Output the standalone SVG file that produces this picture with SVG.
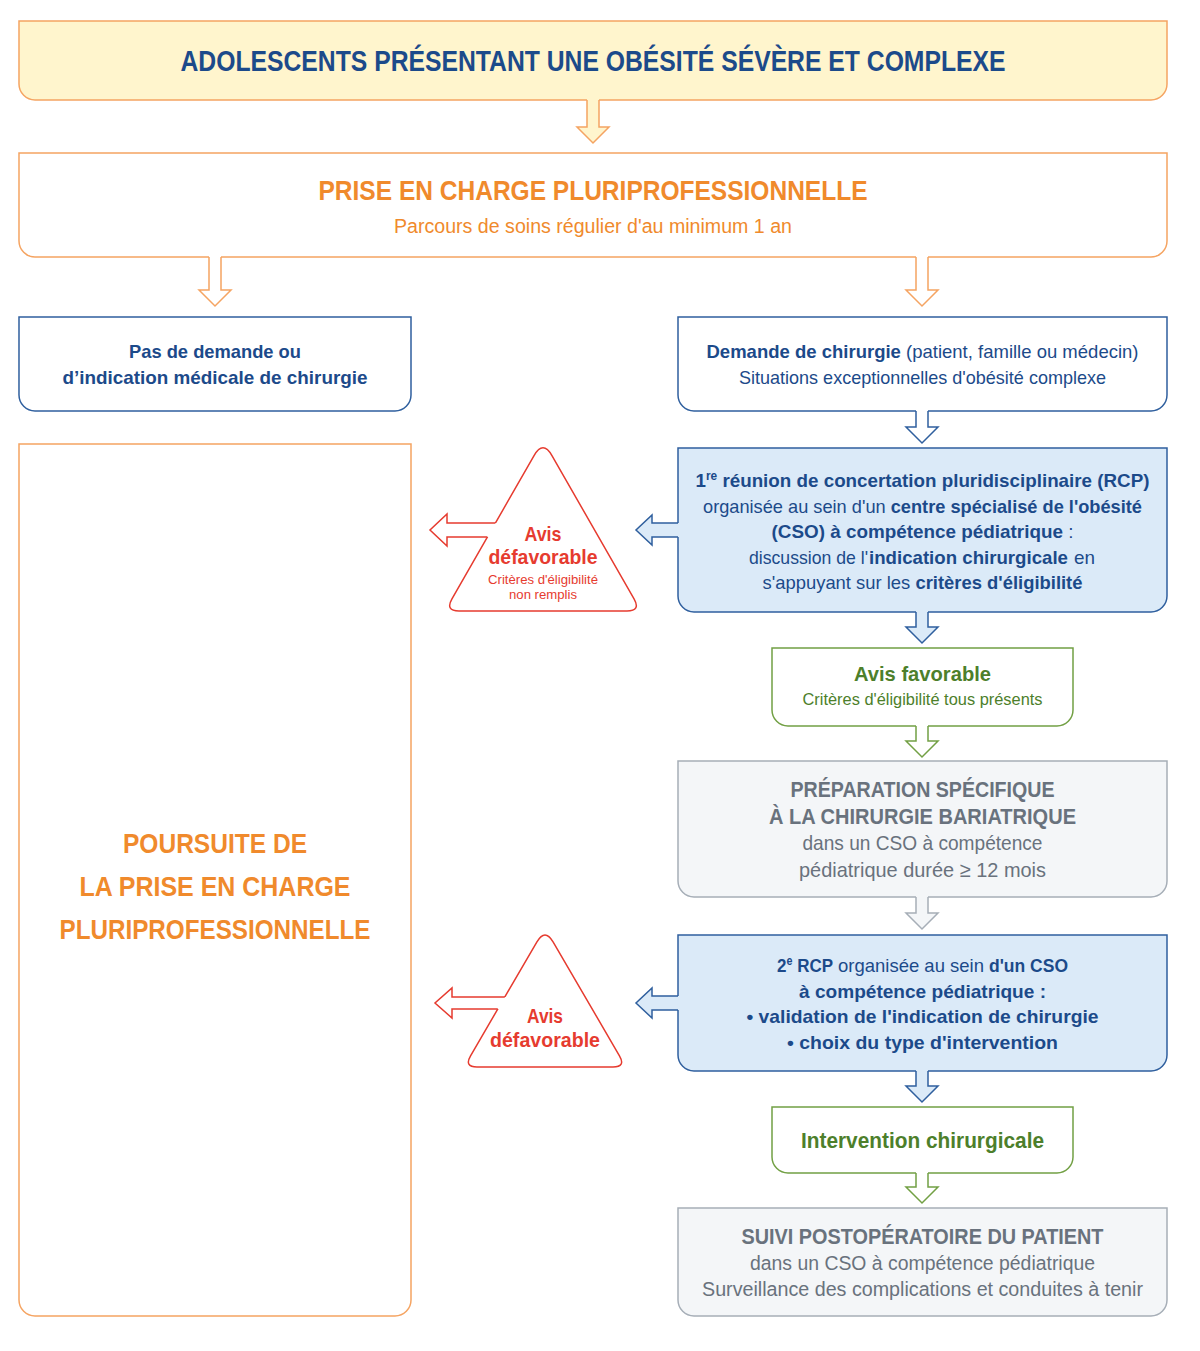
<svg xmlns="http://www.w3.org/2000/svg" width="1200" height="1351" viewBox="0 0 1200 1351">
<style>
text{font-family:"Liberation Sans",Arial,sans-serif;text-anchor:middle}
text.st{text-anchor:start}
.bd{font-weight:bold}
.bx{stroke-width:1.5}
.or{fill:#ffffff;stroke:#f5a462}
.yl{fill:#fff5cd;stroke:#f5a462}
.bl{fill:#ffffff;stroke:#2f5f9e}
.lb{fill:#dbeaf8;stroke:#2f5f9e}
.gr{fill:#ffffff;stroke:#72a044}
.gy{fill:#f4f6f8;stroke:#a6aeb7}
.rd{fill:#ffffff;stroke:#e63b2f}
.cdb{fill:#1c4a8a}
.cor{fill:#f08a2c}
.cgr{fill:#4d7f2b}
.cgy{fill:#69727d}
.crd{fill:#e63b2f}
.af{stroke:none}
.as{fill:none;stroke-width:1.5;stroke-linejoin:miter}
</style>
<rect width="1200" height="1351" fill="#ffffff"/>

<g id="n-adolescents">
<path class="bx yl" d="M19,21 H1167 V84 A16,16 0 0 1 1151,100 H35 A16,16 0 0 1 19,84 Z"/>
<text class="bd cdb" x="593" y="71" font-size="29" textLength="825" lengthAdjust="spacingAndGlyphs">ADOLESCENTS PRÉSENTANT UNE OBÉSITÉ SÉVÈRE ET COMPLEXE</text>
</g>

<g id="n-prise">
<path class="bx or" d="M19,153 H1167 V241 A16,16 0 0 1 1151,257 H35 A16,16 0 0 1 19,241 Z"/>
<text class="bd cor" x="593" y="200" font-size="28" textLength="549" lengthAdjust="spacingAndGlyphs">PRISE EN CHARGE PLURIPROFESSIONNELLE</text>
<text class="cor" x="593" y="233" font-size="20" textLength="398" lengthAdjust="spacingAndGlyphs">Parcours de soins régulier d'au minimum 1 an</text>
</g>

<g id="n-pasdemande">
<path class="bx bl" d="M19,317 H411 V395 A16,16 0 0 1 395,411 H35 A16,16 0 0 1 19,395 Z"/>
<text class="bd cdb" x="215" y="358" font-size="19" textLength="172" lengthAdjust="spacingAndGlyphs">Pas de demande ou</text>
<text class="bd cdb" x="215" y="384" font-size="19" textLength="305" lengthAdjust="spacingAndGlyphs">d’indication médicale de chirurgie</text>
</g>

<g id="n-demande">
<path class="bx bl" d="M678,317 H1167 V395 A16,16 0 0 1 1151,411 H694 A16,16 0 0 1 678,395 Z"/>
<text class="cdb" x="922.5" y="358" font-size="19" textLength="432" lengthAdjust="spacingAndGlyphs"><tspan class="bd">Demande de chirurgie</tspan> (patient, famille ou médecin)</text>
<text class="cdb" x="922.5" y="384" font-size="19" textLength="367" lengthAdjust="spacingAndGlyphs">Situations exceptionnelles d'obésité complexe</text>
</g>

<g id="n-poursuite">
<path class="bx or" d="M19,444 H411 V1300 A16,16 0 0 1 395,1316 H35 A16,16 0 0 1 19,1300 Z"/>
<text class="bd cor" x="215" y="853" font-size="28" textLength="184" lengthAdjust="spacingAndGlyphs">POURSUITE DE</text>
<text class="bd cor" x="215" y="896" font-size="28" textLength="271" lengthAdjust="spacingAndGlyphs">LA PRISE EN CHARGE</text>
<text class="bd cor" x="215" y="939" font-size="28" textLength="311" lengthAdjust="spacingAndGlyphs">PLURIPROFESSIONNELLE</text>
</g>

<g id="n-rcp1">
<path class="bx lb" d="M678,448 H1167 V596 A16,16 0 0 1 1151,612 H694 A16,16 0 0 1 678,596 Z"/>
<text class="bd cdb" x="922.5" y="487" font-size="19" textLength="454" lengthAdjust="spacingAndGlyphs">1<tspan font-size="12" dy="-7">re</tspan><tspan dy="7"> réunion de concertation pluridisciplinaire (RCP)</tspan></text>
<text class="cdb" x="922.5" y="513" font-size="19" textLength="439" lengthAdjust="spacingAndGlyphs">organisée au sein d'un <tspan class="bd">centre spécialisé de l'obésité</tspan></text>
<text class="cdb" x="922.5" y="538" font-size="19" textLength="302" lengthAdjust="spacingAndGlyphs"><tspan class="bd">(CSO) à compétence pédiatrique</tspan> :</text>
<text class="st cdb" x="749" y="564" font-size="19" textLength="119" lengthAdjust="spacingAndGlyphs">discussion de l'</text>
<text class="st bd cdb" x="869" y="564" font-size="19" textLength="199" lengthAdjust="spacingAndGlyphs">indication chirurgicale</text>
<text class="st cdb" x="1074" y="564" font-size="19" textLength="21" lengthAdjust="spacingAndGlyphs">en</text>
<text class="cdb" x="922.5" y="589" font-size="19" textLength="320" lengthAdjust="spacingAndGlyphs">s'appuyant sur les <tspan class="bd">critères d'éligibilité</tspan></text>
</g>

<g id="n-defavorable1">
<path class="bx rd" d="M534.05,455.62 Q543,440 551.95,455.62 L634.04,598.85 Q641,611 627,611 L459,611 Q445,611 451.96,598.85 Z"/>
<text class="bd crd" x="543" y="541" font-size="21" textLength="37" lengthAdjust="spacingAndGlyphs">Avis</text>
<text class="bd crd" x="543" y="564" font-size="21" textLength="109" lengthAdjust="spacingAndGlyphs">défavorable</text>
<text class="crd" x="543" y="584" font-size="13" textLength="110" lengthAdjust="spacingAndGlyphs">Critères d'éligibilité</text>
<text class="crd" x="543" y="599" font-size="13" textLength="68" lengthAdjust="spacingAndGlyphs">non remplis</text>
</g>

<g id="n-favorable">
<path class="bx gr" d="M772,648 H1073 V710 A16,16 0 0 1 1057,726 H788 A16,16 0 0 1 772,710 Z"/>
<text class="bd cgr" x="922.5" y="681" font-size="21" textLength="137" lengthAdjust="spacingAndGlyphs">Avis favorable</text>
<text class="cgr" x="922.5" y="705" font-size="17" textLength="240" lengthAdjust="spacingAndGlyphs">Critères d'éligibilité tous présents</text>
</g>

<g id="n-preparation">
<path class="bx gy" d="M678,761 H1167 V881 A16,16 0 0 1 1151,897 H694 A16,16 0 0 1 678,881 Z"/>
<text class="bd cgy" x="922.5" y="797" font-size="22" textLength="264" lengthAdjust="spacingAndGlyphs">PRÉPARATION SPÉCIFIQUE</text>
<text class="bd cgy" x="922.5" y="824" font-size="22" textLength="307" lengthAdjust="spacingAndGlyphs">À LA CHIRURGIE BARIATRIQUE</text>
<text class="cgy" x="922.5" y="850" font-size="21" textLength="240" lengthAdjust="spacingAndGlyphs">dans un CSO à compétence</text>
<text class="cgy" x="922.5" y="877" font-size="21" textLength="247" lengthAdjust="spacingAndGlyphs">pédiatrique durée ≥ 12 mois</text>
</g>

<g id="n-rcp2">
<path class="bx lb" d="M678,935 H1167 V1055 A16,16 0 0 1 1151,1071 H694 A16,16 0 0 1 678,1055 Z"/>
<text class="st bd cdb" x="777" y="972" font-size="19" textLength="56" lengthAdjust="spacingAndGlyphs">2<tspan font-size="12" dy="-7">e</tspan><tspan dy="7"> RCP</tspan></text>
<text class="st cdb" x="838" y="972" font-size="19" textLength="146" lengthAdjust="spacingAndGlyphs">organisée au sein</text>
<text class="st bd cdb" x="989" y="972" font-size="19" textLength="79" lengthAdjust="spacingAndGlyphs">d'un CSO</text>
<text class="bd cdb" x="922.5" y="998" font-size="19" textLength="247" lengthAdjust="spacingAndGlyphs">à compétence pédiatrique :</text>
<text class="bd cdb" x="922.5" y="1023" font-size="19" textLength="352" lengthAdjust="spacingAndGlyphs">• validation de l'indication de chirurgie</text>
<text class="bd cdb" x="922.5" y="1049" font-size="19" textLength="271" lengthAdjust="spacingAndGlyphs">• choix du type d'intervention</text>
</g>

<g id="n-defavorable2">
<path class="bx rd" d="M536.94,941.82 Q545,928 553.06,941.82 L619.45,1055.77 Q626,1067 613,1067 L477,1067 Q464,1067 470.55,1055.77 Z"/>
<text class="bd crd" x="545" y="1023" font-size="21" textLength="36" lengthAdjust="spacingAndGlyphs">Avis</text>
<text class="bd crd" x="545" y="1047" font-size="21" textLength="110" lengthAdjust="spacingAndGlyphs">défavorable</text>
</g>

<g id="n-intervention">
<path class="bx gr" d="M772,1107 H1073 V1157 A16,16 0 0 1 1057,1173 H788 A16,16 0 0 1 772,1157 Z"/>
<text class="bd cgr" x="922.5" y="1148" font-size="22" textLength="243" lengthAdjust="spacingAndGlyphs">Intervention chirurgicale</text>
</g>

<g id="n-suivi">
<path class="bx gy" d="M678,1208 H1167 V1300 A16,16 0 0 1 1151,1316 H694 A16,16 0 0 1 678,1300 Z"/>
<text class="bd cgy" x="922.5" y="1244" font-size="22" textLength="362" lengthAdjust="spacingAndGlyphs">SUIVI POSTOPÉRATOIRE DU PATIENT</text>
<text class="cgy" x="922.5" y="1270" font-size="20" textLength="345" lengthAdjust="spacingAndGlyphs">dans un CSO à compétence pédiatrique</text>
<text class="cgy" x="922.5" y="1296" font-size="20" textLength="441" lengthAdjust="spacingAndGlyphs">Surveillance des complications et conduites à tenir</text>
</g>

<g id="connectors">
<polygon class="af" fill="#fff5cd" points="587,98 587,127 577,127 593,143 609,127 599,127 599,98"/>
<path class="as" stroke="#f5a462" d="M587,100 V127 H577 L593,143 L609,127 H599 V100"/>
<polygon class="af" fill="#ffffff" points="209,255 209,290 199,290 215,306 231,290 221,290 221,255"/>
<path class="as" stroke="#f5a462" d="M209,257 V290 H199 L215,306 L231,290 H221 V257"/>
<polygon class="af" fill="#ffffff" points="916,255 916,290 906,290 922,306 938,290 928,290 928,255"/>
<path class="as" stroke="#f5a462" d="M916,257 V290 H906 L922,306 L938,290 H928 V257"/>
<polygon class="af" fill="#ffffff" points="916,409 916,427 906,427 922,443 938,427 928,427 928,409"/>
<path class="as" stroke="#2f5f9e" d="M916,411 V427 H906 L922,443 L938,427 H928 V411"/>
<polygon class="af" fill="#dbeaf8" points="916,610 916,627 906,627 922,643 938,627 928,627 928,610"/>
<path class="as" stroke="#2f5f9e" d="M916,612 V627 H906 L922,643 L938,627 H928 V612"/>
<polygon class="af" fill="#dbeaf8" points="680,523 652,523 652,515 636,530 652,545 652,537 680,537"/>
<path class="as" stroke="#2f5f9e" d="M678,523 H652 V515 L636,530 L652,545 V537 H678"/>
<polygon class="af" fill="#ffffff" points="500,523 447,523 447,514 430,530 447,546 447,537 492,537"/>
<path class="as" stroke="#e63b2f" d="M495.4,523 H447 V514 L430,530 L447,546 V537 H487.4"/>
<polygon class="af" fill="#ffffff" points="916,724 916,741 906,741 922,757 938,741 928,741 928,724"/>
<path class="as" stroke="#72a044" d="M916,726 V741 H906 L922,757 L938,741 H928 V726"/>
<polygon class="af" fill="#f4f6f8" points="916,895 916,913 906,913 922,929 938,913 928,913 928,895"/>
<path class="as" stroke="#a6aeb7" d="M916,897 V913 H906 L922,929 L938,913 H928 V897"/>
<polygon class="af" fill="#dbeaf8" points="680,996 652,996 652,988 636,1003 652,1018 652,1010 680,1010"/>
<path class="as" stroke="#2f5f9e" d="M678,996 H652 V988 L636,1003 L652,1018 V1010 H678"/>
<polygon class="af" fill="#ffffff" points="509,997 452,997 452,988 435,1003 452,1018 452,1009 502,1009"/>
<path class="as" stroke="#e63b2f" d="M504.8,997 H452 V988 L435,1003 L452,1018 V1009 H497.8"/>
<polygon class="af" fill="#dbeaf8" points="916,1069 916,1086 906,1086 922,1102 938,1086 928,1086 928,1069"/>
<path class="as" stroke="#2f5f9e" d="M916,1071 V1086 H906 L922,1102 L938,1086 H928 V1071"/>
<polygon class="af" fill="#ffffff" points="916,1171 916,1187 906,1187 922,1203 938,1187 928,1187 928,1171"/>
<path class="as" stroke="#72a044" d="M916,1173 V1187 H906 L922,1203 L938,1187 H928 V1173"/>
</g>
</svg>
